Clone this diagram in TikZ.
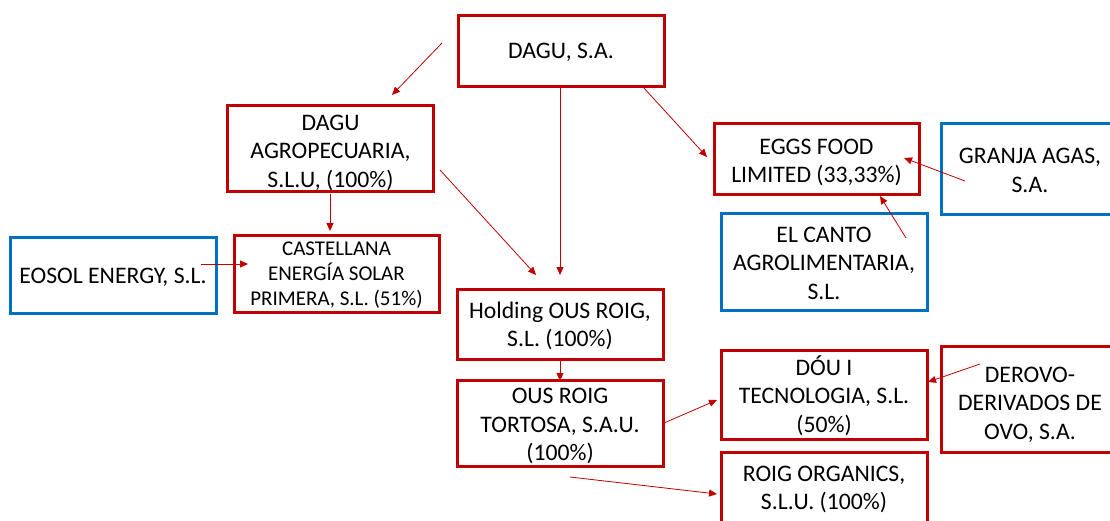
\documentclass[tikz,border=0pt]{standalone}
\usepackage{fontspec}
\setmainfont{Carlito}
\usetikzlibrary{arrows.meta}
\definecolor{boxred}{HTML}{C00000}
\definecolor{boxblue}{HTML}{0070C0}
\newcommand{\boxtxt}[2][3pt]{\raisebox{-#1}[\height][\depth]{\begin{tabular}{@{}c@{}}#2\end{tabular}}}
\begin{document}
\begin{tikzpicture}[x=1pt,y=-1pt,
  ent/.style={draw=boxred, line width=3pt, inner sep=0pt, align=center,
    font=\fontsize{23.7}{28.5}\selectfont, text=black, minimum width=206pt},
  ext/.style={ent, draw=boxblue},
  link/.style={draw=boxred, line width=0.8pt, -{Triangle[length=8pt,width=7pt]}}]
\useasboundingbox[fill=white] (0,0) rectangle (1110,521);
% entities
\node[ent, minimum height=71pt] (dagu) at (561,51.5) {\boxtxt[1pt]{DAGU, S.A.}};
\node[ent, minimum height=86pt] (agro) at (330.5,149) {\boxtxt[4pt]{DAGU\\AGROPECUARIA,\\S.L.U, (100\%)}};
\node[ent, minimum height=76pt, minimum width=205pt, font=\fontsize{21}{25}\selectfont] (cast) at (336.5,274) {\boxtxt[1.5pt]{CASTELLANA\\ENERGÍA SOLAR\\PRIMERA, S.L. (51\%)}};
\node[ext, minimum height=75pt] (eosol) at (113,275.5) {\boxtxt[2.5pt]{EOSOL ENERGY, S.L.}};
\node[ent, minimum height=70pt] (hold) at (560,324) {\boxtxt{Holding OUS ROIG,\\S.L. (100\%)}};
\node[ent, minimum height=85pt] (tort) at (560,423.5) {\boxtxt{OUS ROIG\\TORTOSA, S.A.U.\\(100\%)}};
\node[ent, minimum height=71pt, minimum width=205pt] (eggs) at (816.5,159.5) {\boxtxt[3.5pt]{EGGS FOOD\\LIMITED (33,33\%)}};
\node[ext, minimum height=91pt, minimum width=178pt] (granja) at (1030,169.5) {\boxtxt{GRANJA AGAS,\\S.A.}};
\node[ext, minimum height=96pt] (canto) at (824,262) {\boxtxt{EL CANTO\\AGROLIMENTARIA,\\S.L.}};
\node[ent, minimum height=89pt] (dou) at (824,394.5) {\boxtxt[3.5pt]{DÓU I\\TECNOLOGIA, S.L.\\(50\%)}};
\node[ent, minimum height=106pt, minimum width=178pt] (derovo) at (1030,399) {\boxtxt[6pt]{DEROVO-\\DERIVADOS DE\\OVO, S.A.}};
\node[ent, minimum height=72pt] (organics) at (824,488) {\boxtxt[2pt]{ROIG ORGANICS,\\S.L.U. (100\%)}};
% connector end points
\coordinate (a1s) at (442,43);   \coordinate (a1e) at (392,95);
\coordinate (a2s) at (560,87);   \coordinate (a2e) at (560,275);
\coordinate (a3s) at (643,87);   \coordinate (a3e) at (707,157);
\coordinate (a4s) at (440,170);  \coordinate (a4e) at (536,275);
\coordinate (a5s) at (330,194);  \coordinate (a5e) at (330,231);
\coordinate (a6s) at (201,264);  \coordinate (a6e) at (248,264);
\coordinate (a7s) at (560,359);  \coordinate (a7e) at (560,381);
\coordinate (a8s) at (664,423);  \coordinate (a8e) at (717,400);
\coordinate (a9s) at (570,477);  \coordinate (a9e) at (717,494);
\coordinate (a10s) at (965,181); \coordinate (a10e) at (904,158);
\coordinate (a11s) at (906,238); \coordinate (a11e) at (880,196);
\coordinate (a12s) at (980,364); \coordinate (a12e) at (928,382);
\foreach \i in {1,...,12} \draw[link] (a\i s) -- (a\i e);
\end{tikzpicture}
\end{document}
